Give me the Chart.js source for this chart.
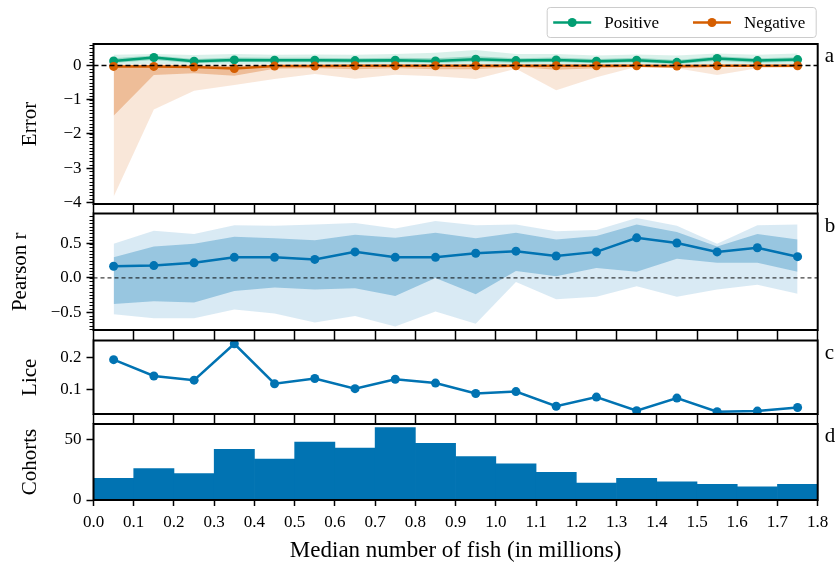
<!DOCTYPE html>
<html>
<head>
<meta charset="utf-8">
<script src="https://cdn.jsdelivr.net/npm/chart.js@4.4.1/dist/chart.umd.min.js"></script>
<style>
  html, body { margin: 0; padding: 0; background: #ffffff; }
  #fig { position: relative; width: 840px; height: 567px; overflow: hidden; background: #ffffff; }
  #fig canvas { position: absolute; left: 0; }
</style>
</head>
<body>
<div id="fig">
  <canvas id="panelA" width="840" height="213" style="top:0px"></canvas>
  <canvas id="panelB" width="840" height="131" style="top:209px"></canvas>
  <canvas id="panelC" width="840" height="88" style="top:336px"></canvas>
  <canvas id="panelD" width="840" height="147" style="top:420px"></canvas>
</div>
<script>
// ---- bins (median number of fish, millions) ----
const X_CENTERS = [0.05, 0.15, 0.25, 0.35, 0.45, 0.55, 0.65, 0.75, 0.85, 0.95,
                   1.05, 1.15, 1.25, 1.35, 1.45, 1.55, 1.65, 1.75];
const X_TICKS = [0.0, 0.1, 0.2, 0.3, 0.4, 0.5, 0.6, 0.7, 0.8, 0.9,
                 1.0, 1.1, 1.2, 1.3, 1.4, 1.5, 1.6, 1.7, 1.8];

// ---- a: prediction error ----
const POS_ERR      = [0.13, 0.23, 0.12, 0.16, 0.15, 0.15, 0.14, 0.15, 0.13, 0.18, 0.14, 0.16, 0.12, 0.15, 0.09, 0.20, 0.14, 0.17];
const POS_INNER_HI = [0.21, 0.29, 0.19, 0.23, 0.22, 0.22, 0.21, 0.22, 0.21, 0.27, 0.21, 0.23, 0.19, 0.22, 0.16, 0.27, 0.21, 0.24];
const POS_INNER_LO = [0.07, 0.16, 0.06, 0.10, 0.09, 0.09, 0.08, 0.09, 0.07, 0.11, 0.08, 0.10, 0.06, 0.09, 0.04, 0.13, 0.08, 0.11];
const POS_OUTER_HI = [0.31, 0.33, 0.30, 0.33, 0.31, 0.32, 0.31, 0.33, 0.37, 0.45, 0.33, 0.33, 0.29, 0.32, 0.29, 0.35, 0.31, 0.35];
const POS_OUTER_LO = [0.02, 0.05, 0.02, 0.03, 0.03, 0.03, 0.02, 0.03, 0.02, 0.03, 0.02, 0.03, 0.02, 0.03, 0.01, 0.05, 0.03, 0.04];

const NEG_ERR      = [-0.03, -0.03, -0.05, -0.09, -0.02, -0.02, -0.01, -0.01, -0.01, -0.01, -0.01, -0.01, -0.01, -0.01, -0.02, -0.01, -0.01, -0.01];
const NEG_INNER_HI = [0.00, 0.01, 0.00, -0.02, 0.01, 0.01, 0.01, 0.01, 0.01, 0.01, 0.01, 0.01, 0.01, 0.01, 0.00, 0.01, 0.01, 0.01];
const NEG_INNER_LO = [-1.47, -0.28, -0.23, -0.30, -0.10, -0.08, -0.11, -0.08, -0.11, -0.11, -0.05, -0.13, -0.08, -0.05, -0.08, -0.05, -0.04, -0.04];
const NEG_OUTER_HI = [0.02, 0.03, 0.02, 0.01, 0.03, 0.03, 0.03, 0.03, 0.03, 0.03, 0.03, 0.03, 0.03, 0.03, 0.02, 0.03, 0.03, 0.03];
const NEG_OUTER_LO = [-3.84, -1.29, -0.74, -0.57, -0.40, -0.25, -0.39, -0.27, -0.32, -0.40, -0.10, -0.73, -0.35, -0.04, -0.08, -0.28, -0.08, -0.06];

// ---- b: Pearson correlation ----
const R_MEAN     = [0.17, 0.18, 0.22, 0.30, 0.30, 0.27, 0.38, 0.30, 0.30, 0.36, 0.39, 0.32, 0.38, 0.585, 0.51, 0.38, 0.44, 0.31];
const R_INNER_HI = [0.30, 0.46, 0.50, 0.60, 0.58, 0.55, 0.63, 0.585, 0.66, 0.58, 0.66, 0.56, 0.61, 0.78, 0.67, 0.46, 0.64, 0.56];
const R_INNER_LO = [-0.38, -0.34, -0.36, -0.19, -0.14, -0.17, -0.15, -0.265, 0.00, -0.24, 0.10, 0.025, 0.145, 0.09, 0.28, 0.22, 0.22, 0.09];
const R_OUTER_HI = [0.50, 0.69, 0.64, 0.77, 0.76, 0.78, 0.80, 0.72, 0.83, 0.77, 0.78, 0.68, 0.70, 0.875, 0.76, 0.50, 0.77, 0.78];
const R_OUTER_LO = [-0.53, -0.59, -0.59, -0.46, -0.52, -0.65, -0.555, -0.71, -0.49, -0.67, -0.06, -0.31, -0.275, -0.12, -0.275, -0.17, -0.10, -0.23];

// ---- c: lice ----
const LICE = [0.192, 0.142, 0.129, 0.241, 0.118, 0.134, 0.103, 0.132, 0.120, 0.088, 0.094, 0.049, 0.077, 0.035, 0.074, 0.032, 0.034, 0.045];

// ---- d: cohorts per bin ----
const COHORTS = [18, 26, 22, 42, 34, 48, 43, 60, 47, 36, 30, 23, 14, 18, 15, 13, 11, 13];

// ---- tick labels ----
const ERR_TICKS = [-4, -3, -2, -1, 0];
const R_TICKS = [-0.5, 0.0, 0.5];
const LICE_TICKS = [0.1, 0.2];
const COHORT_TICKS = [0, 50];
const ZERO_LINE = [0, 0];

const GREEN = '#029E73';
const ORANGE = '#D55E00';
const BLUE = '#0173B2';
const SERIF = '"Liberation Serif", "Times New Roman", "DejaVu Serif", serif';

Chart.defaults.font.family = SERIF;
Chart.defaults.color = '#000';
Chart.defaults.animation = false;

const pts = arr => arr.map((y, i) => ({ x: X_CENTERS[i], y }));
const spanPts = arr => arr.map((y, i) => ({ x: i === 0 ? X_TICKS[0] : X_TICKS[X_TICKS.length - 1], y }));
const minus = s => String(s).replace('-', '\u2212');
const rgba = (hex, a) => {
  const n = parseInt(hex.slice(1), 16);
  return `rgba(${(n >> 16) & 255},${(n >> 8) & 255},${n & 255},${a})`;
};

// band edges: the upper edge fills down to the next dataset
function band(hi, lo, color, alpha, order) {
  return [
    { data: pts(hi), fill: '+1', backgroundColor: rgba(color, alpha), borderColor: 'rgba(0,0,0,0)',
      borderWidth: 0, pointRadius: 0, order, clip: 0 },
    { data: pts(lo), fill: false, borderColor: 'rgba(0,0,0,0)', borderWidth: 0, pointRadius: 0, order, clip: 0 }
  ];
}
function series(values, color, order, radius) {
  return { data: pts(values), borderColor: color, backgroundColor: color, borderWidth: 2.5,
           pointRadius: radius, pointBackgroundColor: color, pointBorderWidth: 0, fill: false, order, clip: 0 };
}
function zeroLine(color, width, dash) {
  return { data: spanPts(ZERO_LINE), borderColor: color, borderWidth: width, borderDash: dash,
           pointRadius: 0, fill: false, order: 0, clip: 0 };
}

function xScale(o) {
  return {
    type: 'linear', min: X_TICKS[0], max: X_TICKS[X_TICKS.length - 1], offset: false,
    afterBuildTicks: s => { s.ticks = X_TICKS.map(v => ({ value: v })); },
    afterFit: s => { s.height = o.height; s.paddingLeft = 0; s.paddingRight = 0; },
    border: { display: false },
    grid: { display: true, offset: false, drawOnChartArea: false, drawTicks: true, tickLength: o.tick,
            tickColor: '#000', tickWidth: 1.5 },
    ticks: { display: !!o.labels, padding: 6, autoSkip: false, maxRotation: 0, font: { size: 17 }, color: '#000',
             callback: v => v.toFixed(1) },
    title: o.title ? { display: true, text: o.title, font: { size: 23 }, color: '#000', padding: { top: 0, bottom: 2 } }
                   : { display: false }
  };
}
function yScale(o) {
  return {
    type: 'linear', min: o.min, max: o.max,
    afterBuildTicks: s => { s.ticks = o.ticks.map(v => ({ value: v })); },
    afterFit: s => { s.width = 93.5; s.paddingTop = 0; s.paddingBottom = 0; },
    border: { display: false },
    grid: { display: true, drawOnChartArea: false, drawTicks: true, tickLength: 7, tickColor: '#000', tickWidth: 1.5 },
    ticks: { padding: 5, font: { size: 17 }, color: '#000', callback: v => minus(o.fmt(v)) },
    title: { display: true, text: o.title, font: { size: 21 }, color: '#000', padding: { top: o.titlePad, bottom: 0 } }
  };
}

// axes frame on all four sides
const framePlugin = {
  id: 'frame',
  afterDraw(chart) {
    const { ctx, chartArea: a } = chart;
    ctx.save();
    ctx.strokeStyle = '#000';
    ctx.lineWidth = 2;
    ctx.strokeRect(a.left, a.top, a.right - a.left, a.bottom - a.top);
    ctx.restore();
  }
};
// short unlabelled ticks between the major ones on the y axis
const minorTickPlugin = {
  id: 'minorTicks',
  afterDraw(chart, args, opts) {
    if (!opts || !opts.step) return;
    const s = chart.scales.y, ctx = chart.ctx, x0 = chart.chartArea.left;
    const k0 = Math.ceil(s.min / opts.step - 1e-9), k1 = Math.floor(s.max / opts.step + 1e-9);
    ctx.save();
    ctx.strokeStyle = '#000';
    ctx.lineWidth = 1;
    ctx.beginPath();
    for (let k = k0; k <= k1; k++) {
      const y = Math.round(s.getPixelForValue(k * opts.step)) + 0.5;
      ctx.moveTo(x0, y);
      ctx.lineTo(x0 - 4, y);
    }
    ctx.stroke();
    ctx.restore();
  }
};
// panel letter on the right of each axes
const letterPlugin = {
  id: 'panelLetter',
  afterDraw(chart, args, opts) {
    if (!opts || !opts.text) return;
    const { ctx, chartArea: a } = chart;
    ctx.save();
    ctx.fillStyle = '#000';
    ctx.font = `21px ${SERIF}`;
    ctx.textAlign = 'left';
    ctx.textBaseline = 'alphabetic';
    ctx.fillText(opts.text, a.right + 7, a.top + 18);
    ctx.restore();
  }
};
// series key above the top panel
const keyPlugin = {
  id: 'seriesKey',
  afterDraw(chart, args, opts) {
    if (!opts || !opts.items) return;
    const { ctx, chartArea: a } = chart;
    const w = 269, h = 30, right = a.right - 1.5, top = 7.5, left = right - w, cy = top + h / 2;
    ctx.save();
    ctx.beginPath();
    ctx.roundRect(left, top, w, h, 3);
    ctx.fillStyle = 'rgba(255,255,255,0.8)';
    ctx.fill();
    ctx.strokeStyle = '#cccccc';
    ctx.lineWidth = 1;
    ctx.stroke();
    ctx.font = `17px ${SERIF}`;
    ctx.textAlign = 'left';
    ctx.textBaseline = 'middle';
    let x = left + 6;
    opts.items.forEach(({ label, color }) => {
      ctx.strokeStyle = color;
      ctx.lineWidth = 2.5;
      ctx.beginPath();
      ctx.moveTo(x, cy);
      ctx.lineTo(x + 38, cy);
      ctx.stroke();
      ctx.fillStyle = color;
      ctx.beginPath();
      ctx.arc(x + 19, cy, 4.5, 0, Math.PI * 2);
      ctx.fill();
      ctx.fillStyle = '#000';
      ctx.fillText(label, x + 51, cy + 1);
      x += 51 + ctx.measureText(label).width + 34;
    });
    ctx.restore();
  }
};
const PLUGINS = [framePlugin, minorTickPlugin, letterPlugin, keyPlugin];

function baseOptions(pad, scales, extra) {
  return {
    responsive: false,
    animation: false,
    events: [],
    layout: { padding: { left: 0, right: 22.3, top: pad.top, bottom: 0 } },
    scales,
    plugins: Object.assign({ legend: { display: false }, tooltip: { enabled: false },
                             filler: { propagate: false } }, extra)
  };
}

// a: error
new Chart(document.getElementById('panelA'), {
  type: 'line',
  data: {
    datasets: [
      zeroLine('#000', 1.5, [5, 3]),
      Object.assign(series(NEG_ERR, ORANGE, 1, 4.5), { label: 'Negative' }),
      Object.assign(series(POS_ERR, GREEN, 2, 4.5), { label: 'Positive' }),
      ...band(NEG_INNER_HI, NEG_INNER_LO, ORANGE, 0.3, 3),
      ...band(NEG_OUTER_HI, NEG_OUTER_LO, ORANGE, 0.15, 4),
      ...band(POS_INNER_HI, POS_INNER_LO, GREEN, 0.3, 5),
      ...band(POS_OUTER_HI, POS_OUTER_LO, GREEN, 0.15, 6)
    ]
  },
  options: baseOptions({ top: 44 }, {
    x: xScale({ height: 9, tick: 9 }),
    y: yScale({ min: -4.05, max: 0.625, ticks: ERR_TICKS, fmt: v => v.toFixed(0), title: 'Error', titlePad: 18 })
  }, {
    minorTicks: { step: 0.1 },
    panelLetter: { text: 'a' },
    seriesKey: { items: [{ label: 'Positive', color: GREEN }, { label: 'Negative', color: ORANGE }] }
  }),
  plugins: PLUGINS
});

// b: Pearson r
new Chart(document.getElementById('panelB'), {
  type: 'line',
  data: {
    datasets: [
      zeroLine('rgba(0,0,0,0.75)', 1.2, [4, 3]),
      series(R_MEAN, BLUE, 1, 4.5),
      ...band(R_INNER_HI, R_INNER_LO, BLUE, 0.3, 2),
      ...band(R_OUTER_HI, R_OUTER_LO, BLUE, 0.15, 3)
    ]
  },
  options: baseOptions({ top: 4 }, {
    x: xScale({ height: 10, tick: 10 }),
    y: yScale({ min: -0.76, max: 0.94, ticks: R_TICKS, fmt: v => v.toFixed(1), title: 'Pearson r', titlePad: 7.5 })
  }, {
    minorTicks: { step: 0.05 },
    panelLetter: { text: 'b' }
  }),
  plugins: PLUGINS
});

// c: lice
new Chart(document.getElementById('panelC'), {
  type: 'line',
  data: { datasets: [series(LICE, BLUE, 0, 4.5)] },
  options: baseOptions({ top: 4 }, {
    x: xScale({ height: 10, tick: 10 }),
    y: yScale({ min: 0.025, max: 0.251, ticks: LICE_TICKS, fmt: v => v.toFixed(1), title: 'Lice', titlePad: 18 })
  }, {
    panelLetter: { text: 'c' }
  }),
  plugins: PLUGINS
});

// d: cohorts histogram
new Chart(document.getElementById('panelD'), {
  type: 'bar',
  data: {
    datasets: [{
      data: pts(COHORTS), backgroundColor: BLUE, borderWidth: 0,
      categoryPercentage: 1.0, barPercentage: 1.0, clip: 0
    }]
  },
  options: baseOptions({ top: 4 }, {
    x: xScale({ height: 67, tick: 6, labels: true, title: 'Median number of fish (in millions)' }),
    y: yScale({ min: 0, max: 63, ticks: COHORT_TICKS, fmt: v => v.toFixed(0), title: 'Cohorts', titlePad: 18 })
  }, {
    panelLetter: { text: 'd' }
  }),
  plugins: PLUGINS
});
</script>
</body>
</html>
